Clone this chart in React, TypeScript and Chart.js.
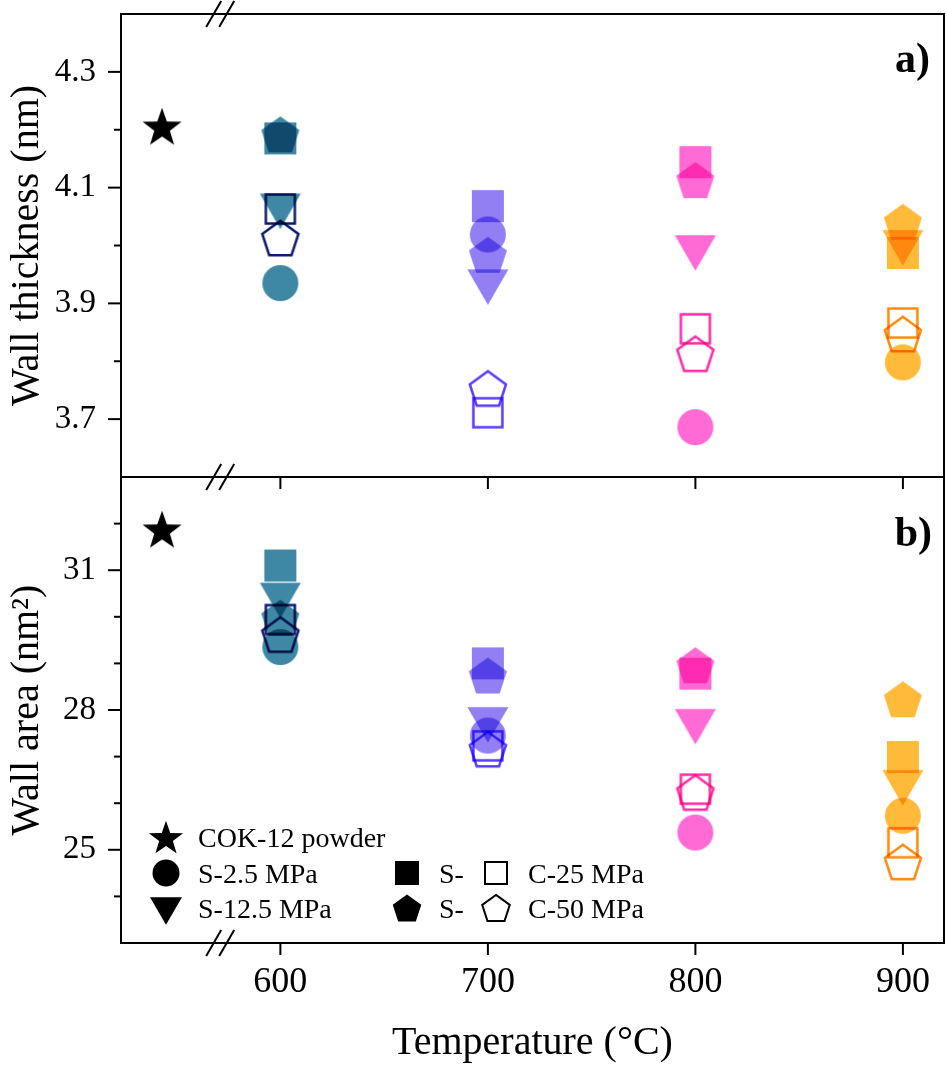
import React, { useEffect, useRef } from 'react';
import { Chart, registerables } from 'chart.js';

Chart.register(...registerables);

const FONT = "'Liberation Serif', 'Times New Roman', Times, serif";

// ---------- data ----------
const TEMPERATURES = [600, 700, 800, 900];
const POWDER_X = 543; // powder reference sits left of the axis break
const BREAK_X = 571;
const X_TICKS = [600, 700, 800, 900];

const TOP_TICKS = [3.7, 3.9, 4.1, 4.3];
const TOP_MINOR = [3.8, 4.0, 4.2];
const BOTTOM_TICKS = [25, 28, 31];
const BOTTOM_MINOR = [24, 26, 27, 29, 30, 32];

// a) wall thickness (nm)
const THICK_POWDER = 4.206;
const THICK_S2_5 = [3.935, 4.019, 3.686, 3.798];
const THICK_S12_5 = [4.059, 3.928, 3.987, 3.996];
const THICK_S25 = [4.185, 4.068, 4.144, 3.987];
const THICK_S50 = [4.192, 3.984, 4.113, 4.041];
const THICK_C25 = [4.063, 3.711, 3.856, 3.866];
const THICK_C50 = [4.013, 3.753, 3.813, 3.847];

// b) wall area (nm2)
const AREA_POWDER = 31.88;
const AREA_S2_5 = [29.35, 27.45, 25.37, 25.73];
const AREA_S12_5 = [30.35, 27.68, 27.64, 26.33];
const AREA_S25 = [31.1, 29.0, 28.78, 26.99];
const AREA_S50 = [29.98, 28.74, 28.96, 28.23];
const AREA_C25 = [29.94, 27.23, 26.3, 25.15];
const AREA_C50 = [29.62, 27.16, 26.23, 24.74];

const FILL_COLORS = ['#3E88A6', '#917FF3', '#FF6AD5', '#FFBA3A'];
const OPEN_COLORS = ['#0B1A6E', '#5A3AFF', '#FF2AA6', '#FF8A0A'];

const LEGEND_LABELS = ['COK-12 powder', 'S-2.5 MPa', 'S-12.5 MPa', 'S-', 'S-', 'C-25 MPa', 'C-50 MPa'];

// ---------- marker drawing ----------
type Shape = 'circle' | 'square' | 'triangle' | 'pentagon' | 'star';

function tracePath(ctx: CanvasRenderingContext2D, shape: Shape, cx: number, cy: number, s: number) {
  ctx.beginPath();
  if (shape === 'circle') {
    ctx.arc(cx, cy, s, 0, Math.PI * 2);
  } else if (shape === 'square') {
    ctx.rect(cx - s, cy - s, 2 * s, 2 * s);
  } else if (shape === 'triangle') {
    const h = s * Math.sqrt(3);
    ctx.moveTo(cx - s, cy - h / 2);
    ctx.lineTo(cx + s, cy - h / 2);
    ctx.lineTo(cx, cy + h / 2);
    ctx.closePath();
  } else {
    const n = shape === 'star' ? 10 : 5;
    const dy = (s * (1 - Math.cos(Math.PI / 5))) / 2;
    for (let k = 0; k < n; k++) {
      const a = -Math.PI / 2 + (k * 2 * Math.PI) / n;
      const r = shape === 'star' && k % 2 === 1 ? s * 0.4 : s;
      const px = cx + r * Math.cos(a);
      const py = cy + dy + r * Math.sin(a);
      if (k === 0) ctx.moveTo(px, py);
      else ctx.lineTo(px, py);
    }
    ctx.closePath();
  }
}

function drawShape(
  ctx: CanvasRenderingContext2D, shape: Shape, cx: number, cy: number, s: number,
  fill: string | null, stroke: string | null, lw: number
) {
  tracePath(ctx, shape, cx, cy, s);
  if (fill) {
    ctx.fillStyle = fill;
    ctx.fill();
  }
  if (stroke) {
    ctx.strokeStyle = stroke;
    ctx.lineWidth = lw;
    ctx.lineJoin = 'miter';
    ctx.stroke();
  }
}

function makeMarker(shape: Shape, s: number, fill: string | null, stroke: string | null, lw: number) {
  const pad = Math.ceil(s + lw + 3);
  const c = document.createElement('canvas');
  c.width = pad * 2;
  c.height = pad * 2;
  const ctx = c.getContext('2d')!;
  drawShape(ctx, shape, pad, pad, s, fill, stroke, lw);
  return c;
}

const MARKER_SIZE: Record<Shape, number> = { circle: 18, square: 16, triangle: 20.5, pentagon: 20, star: 20.5 };
const OPEN_SIZE: Record<string, number> = { square: 14.5, pentagon: 19 };

const zeroPad = (s: any) => {
  s.paddingTop = 0;
  s.paddingBottom = 0;
  s.paddingLeft = 0;
  s.paddingRight = 0;
};

function buildConfig(): any {
  const series: { shape: Shape; filled: boolean; top: number[]; bottom: number[] }[] = [
    { shape: 'circle', filled: true, top: THICK_S2_5, bottom: AREA_S2_5 },
    { shape: 'triangle', filled: true, top: THICK_S12_5, bottom: AREA_S12_5 },
    { shape: 'square', filled: true, top: THICK_S25, bottom: AREA_S25 },
    { shape: 'pentagon', filled: true, top: THICK_S50, bottom: AREA_S50 },
    { shape: 'square', filled: false, top: THICK_C25, bottom: AREA_C25 },
    { shape: 'pentagon', filled: false, top: THICK_C50, bottom: AREA_C50 },
  ];

  const datasets: any[] = [];
  const star = makeMarker('star', MARKER_SIZE.star, '#000', null, 0);
  const ordered = [...series].reverse();
  for (const panel of ['top', 'bottom'] as const) {
    for (const s of ordered) {
      const markers = TEMPERATURES.map((_, i) =>
        s.filled
          ? makeMarker(s.shape, MARKER_SIZE[s.shape], FILL_COLORS[i], null, 0)
          : makeMarker(s.shape, OPEN_SIZE[s.shape], null, OPEN_COLORS[i], 2.5)
      );
      const vals = panel === 'top' ? s.top : s.bottom;
      datasets.push({
        data: TEMPERATURES.map((t, i) => ({ x: t, y: vals[i] })),
        yAxisID: panel === 'top' ? 'yTop' : 'yBottom',
        pointStyle: (c: any) => markers[c.dataIndex],
        pointRadius: 18,
        showLine: false,
      });
    }
    datasets.push({
      data: [{ x: POWDER_X, y: panel === 'top' ? THICK_POWDER : AREA_POWDER }],
      yAxisID: panel === 'top' ? 'yTop' : 'yBottom',
      pointStyle: star,
      pointRadius: 18,
      showLine: false,
    });
  }

  const decorPlugin = {
    id: 'decor',
    beforeDraw(chart: any) {
      const ctx = chart.ctx;
      ctx.save();
      ctx.fillStyle = '#fff';
      ctx.fillRect(0, 0, chart.width, chart.height);
      ctx.restore();
    },
    beforeDatasetsDraw(chart: any) {
      chart.ctx.save();
      chart.ctx.globalCompositeOperation = 'multiply';
    },
    afterDatasetsDraw(chart: any) {
      chart.ctx.restore();
    },
    afterDraw(chart: any) {
      const ctx: CanvasRenderingContext2D = chart.ctx;
      const xs = chart.scales.x;
      const yt = chart.scales.yTop;
      const yb = chart.scales.yBottom;
      const L = chart.chartArea.left;
      const R = chart.chartArea.right;
      ctx.save();
      ctx.strokeStyle = '#000';
      ctx.fillStyle = '#000';
      ctx.lineWidth = 2;
      ctx.strokeRect(L, yt.top, R - L, yt.bottom - yt.top);
      ctx.strokeRect(L, yb.top, R - L, yb.bottom - yb.top);
      const line = (x1: number, y1: number, x2: number, y2: number) => {
        ctx.beginPath();
        ctx.moveTo(x1, y1);
        ctx.lineTo(x2, y2);
        ctx.stroke();
      };
      for (const v of TOP_TICKS) { const y = yt.getPixelForValue(v); line(L - 13, y, L, y); }
      for (const v of TOP_MINOR) { const y = yt.getPixelForValue(v); line(L - 7, y, L, y); }
      for (const v of BOTTOM_TICKS) { const y = yb.getPixelForValue(v); line(L - 13, y, L, y); }
      for (const v of BOTTOM_MINOR) { const y = yb.getPixelForValue(v); line(L - 7, y, L, y); }
      for (const v of X_TICKS) {
        const x = xs.getPixelForValue(v);
        line(x, yb.bottom, x, yb.bottom + 12);
        line(x, yb.top, x, yb.top + 12);
      }
      const bx = xs.getPixelForValue(BREAK_X);
      for (const by of [yt.top, yt.bottom, yb.bottom]) {
        line(bx - 14, by + 13, bx + 1, by - 13);
        line(bx - 1, by + 13, bx + 14, by - 13);
      }
      ctx.font = `bold 42px ${FONT}`;
      ctx.textAlign = 'right';
      ctx.textBaseline = 'alphabetic';
      ctx.fillText('a)', R - 14, yt.top + 58);
      ctx.fillText('b)', R - 12, yb.top + 69);
      const B = yb.bottom;
      const colM = [L + 45, L + 286, L + 375];
      const rowY = [B - 106, B - 70, B - 35];
      const items: [number, number, Shape, number, boolean][] = [
        [0, 0, 'star', 18, true],
        [0, 1, 'circle', 13.5, true],
        [0, 2, 'triangle', 16, true],
        [1, 1, 'square', 12, true],
        [1, 2, 'pentagon', 15, true],
        [2, 1, 'square', 11, false],
        [2, 2, 'pentagon', 14.5, false],
      ];
      ctx.font = `28px ${FONT}`;
      ctx.textAlign = 'left';
      items.forEach(([col, row, shape, size, filled], i) => {
        const cx = colM[col];
        const cy = rowY[row] + (shape === 'triangle' ? 3 : 0);
        drawShape(ctx, shape, cx, cy, size, filled ? '#000' : null, filled ? null : '#000', 2);
        ctx.fillStyle = '#000';
        ctx.fillText(LEGEND_LABELS[i], cx + 32, rowY[row] + 10);
      });
      ctx.restore();
    },
  };

  return {
    type: 'scatter',
    data: { datasets },
    plugins: [decorPlugin],
    options: {
      animation: false,
      responsive: false,
      devicePixelRatio: 1,
      events: [],
      layout: { autoPadding: false, padding: { top: 14, right: 3, left: 0, bottom: 0 } },
      plugins: { legend: { display: false }, tooltip: { enabled: false } },
      scales: {
        x: {
          type: 'linear',
          position: 'bottom',
          min: 523.2,
          max: 919.8,
          afterBuildTicks: (s: any) => { s.ticks = X_TICKS.map((v) => ({ value: v })); },
          afterFit: (s: any) => { s.height = 125; zeroPad(s); },
          grid: { drawOnChartArea: false, drawTicks: true, tickLength: 12, tickColor: 'rgba(0,0,0,0)' },
          border: { display: false },
          ticks: { color: '#000', font: { family: FONT, size: 36 }, padding: 6, maxRotation: 0, autoSkip: false },
          title: {
            display: true,
            text: 'Temperature (°C)',
            color: '#000',
            font: { family: FONT, size: 40 },
            padding: { top: 0, bottom: 1 },
          },
        },
        yBottom: {
          type: 'linear',
          position: 'left',
          stack: 'panels',
          stackWeight: 466,
          weight: 0,
          min: 23,
          max: 33,
          afterBuildTicks: (s: any) => { s.ticks = BOTTOM_TICKS.map((v) => ({ value: v })); },
          afterFit: (s: any) => { s.width = 121; zeroPad(s); },
          grid: { drawOnChartArea: false, drawTicks: true, tickLength: 12, tickColor: 'rgba(0,0,0,0)' },
          border: { display: false },
          ticks: { color: '#000', font: { family: FONT, size: 33 }, padding: 13, callback: (v: any) => String(v) },
          title: {
            display: true,
            text: 'Wall area (nm²)',
            color: '#000',
            font: { family: FONT, size: 40 },
            padding: { top: 3, bottom: 0 },
          },
        },
        yTop: {
          type: 'linear',
          position: 'left',
          stack: 'panels',
          stackWeight: 463,
          weight: 1,
          min: 3.6,
          max: 4.4,
          afterBuildTicks: (s: any) => { s.ticks = TOP_TICKS.map((v) => ({ value: v })); },
          afterFit: (s: any) => { s.width = 121; zeroPad(s); },
          grid: { drawOnChartArea: false, drawTicks: true, tickLength: 12, tickColor: 'rgba(0,0,0,0)' },
          border: { display: false },
          ticks: { color: '#000', font: { family: FONT, size: 33 }, padding: 13, callback: (v: any) => Number(v).toFixed(1) },
          title: {
            display: true,
            text: 'Wall thickness (nm)',
            color: '#000',
            font: { family: FONT, size: 40 },
            padding: { top: 3, bottom: 0 },
          },
        },
      },
    },
  };
}

export default function App() {
  const ref = useRef<HTMLCanvasElement>(null);
  useEffect(() => {
    document.body.style.margin = '0';
    const chart = new Chart(ref.current as HTMLCanvasElement, buildConfig());
    return () => chart.destroy();
  }, []);
  return (
    <div style={{ width: 947, height: 1068, overflow: 'hidden', background: '#fff' }}>
      <canvas ref={ref} width={947} height={1068} style={{ display: 'block' }} />
    </div>
  );
}
